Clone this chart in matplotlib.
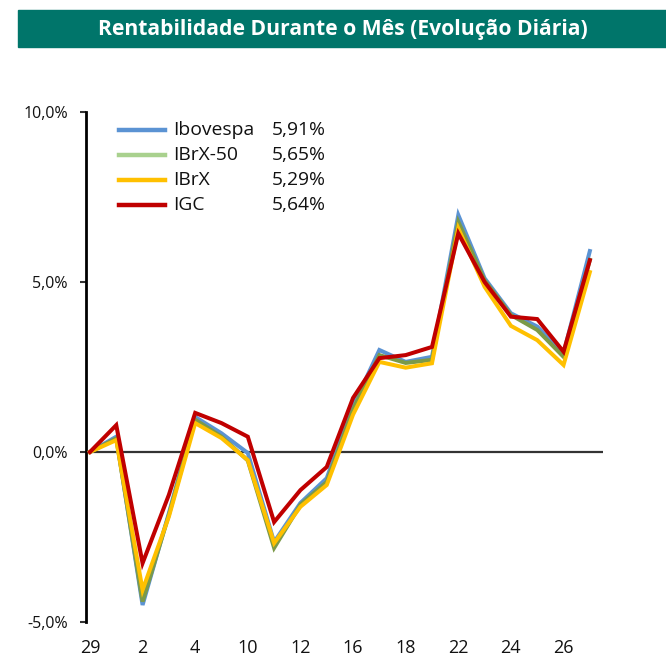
import matplotlib
matplotlib.use("Agg")
import matplotlib.pyplot as plt
from matplotlib.lines import Line2D
from matplotlib.patches import Rectangle

plt.rcParams['font.family'] = ['Open Sans', 'DejaVu Sans']

days = ["29", "1", "2", "3", "4", "5", "10", "11", "12", "15",
        "16", "17", "18", "19", "22", "23", "24", "25", "26", "29"]

ibovespa = [0.00, 0.45, -4.50, -1.80, 1.03, 0.55, -0.03, -2.65, -1.50, -0.77,
            1.35, 3.00, 2.65, 2.80, 6.97, 5.11, 4.08, 3.69, 2.90, 5.91]
ibrx50 = [0.00, 0.40, -4.40, -1.85, 0.95, 0.45, -0.25, -2.82, -1.55, -0.88,
          1.25, 2.85, 2.62, 2.71, 6.77, 5.05, 4.03, 3.59, 2.80, 5.65]
ibrx = [0.00, 0.35, -4.06, -1.90, 0.85, 0.41, -0.24, -2.68, -1.61, -0.97,
        1.10, 2.65, 2.48, 2.61, 6.58, 4.86, 3.71, 3.29, 2.56, 5.29]
igc = [0.00, 0.79, -3.27, -1.26, 1.15, 0.85, 0.45, -2.06, -1.12, -0.44,
       1.59, 2.76, 2.85, 3.09, 6.43, 5.00, 3.98, 3.91, 2.95, 5.64]

names = ["Ibovespa", "IBrX-50", "IBrX", "IGC"]
series = [ibovespa, ibrx50, ibrx, igc]
line_colors = ["#5B93D3", "#7C9A48", "#FFC000", "#C00000"]
legend_colors = ["#5B93D3", "#A9D18E", "#FFC000", "#C00000"]

yticks = [-5, 0, 5, 10]

W, H = 666, 656
fig = plt.figure(figsize=(W / 100, H / 100), dpi=100)

# title banner
fig.patches.append(Rectangle((18 / W, 1 - 47 / H), (W - 18) / W, 37 / H,
                             transform=fig.transFigure, color="#00756A", zorder=0))
fig.text(343 / W, 1 - 29 / H, "Rentabilidade Durante o Mês (Evolução Diária)",
         color="white", fontsize=15.2, fontweight="bold", ha="center", va="center")

ax = fig.add_axes([86 / W, 34 / H, 517 / W, 510 / H])
x = list(range(len(days)))
for s, c in zip(series, line_colors):
    ax.plot(x, s, color=c, lw=2.9, solid_joinstyle="miter", zorder=3)

ax.axhline(0, color="#333333", lw=1.6, zorder=2)
ax.set_xlim(-0.15, 19.5)
ax.set_ylim(-5, 10)
ax.set_yticks(yticks)
ax.set_yticklabels([f"{v:.1f}%".replace(".", ",") for v in yticks],
                   fontsize=11.5, color="#111111")
ax.set_xticks(x[::2])
ax.set_xticklabels(days[::2], fontsize=13, color="#111111")
ax.tick_params(axis="x", length=0, pad=12)
ax.tick_params(axis="y", length=4, width=1.5, pad=9, color="#333333")
for sp in ["top", "right", "bottom"]:
    ax.spines[sp].set_visible(False)
ax.spines["left"].set_linewidth(2)
ax.spines["left"].set_color("black")

# legend (manual)
rows_y = [130, 155, 180, 205]
for name, s, c, ry in zip(names, series, legend_colors, rows_y):
    yf = 1 - ry / H
    fig.add_artist(Line2D([119 / W, 165 / W], [yf, yf], color=c, lw=3.2,
                          transform=fig.transFigure))
    fig.text(173 / W, yf, name, fontsize=13.9, va="center", ha="left", color="#111111")
    fig.text(272 / W, yf, f"{s[-1]:.2f}%".replace(".", ","), fontsize=13.9,
             va="center", ha="left", color="#111111")

fig.savefig("out.png", dpi=100)
